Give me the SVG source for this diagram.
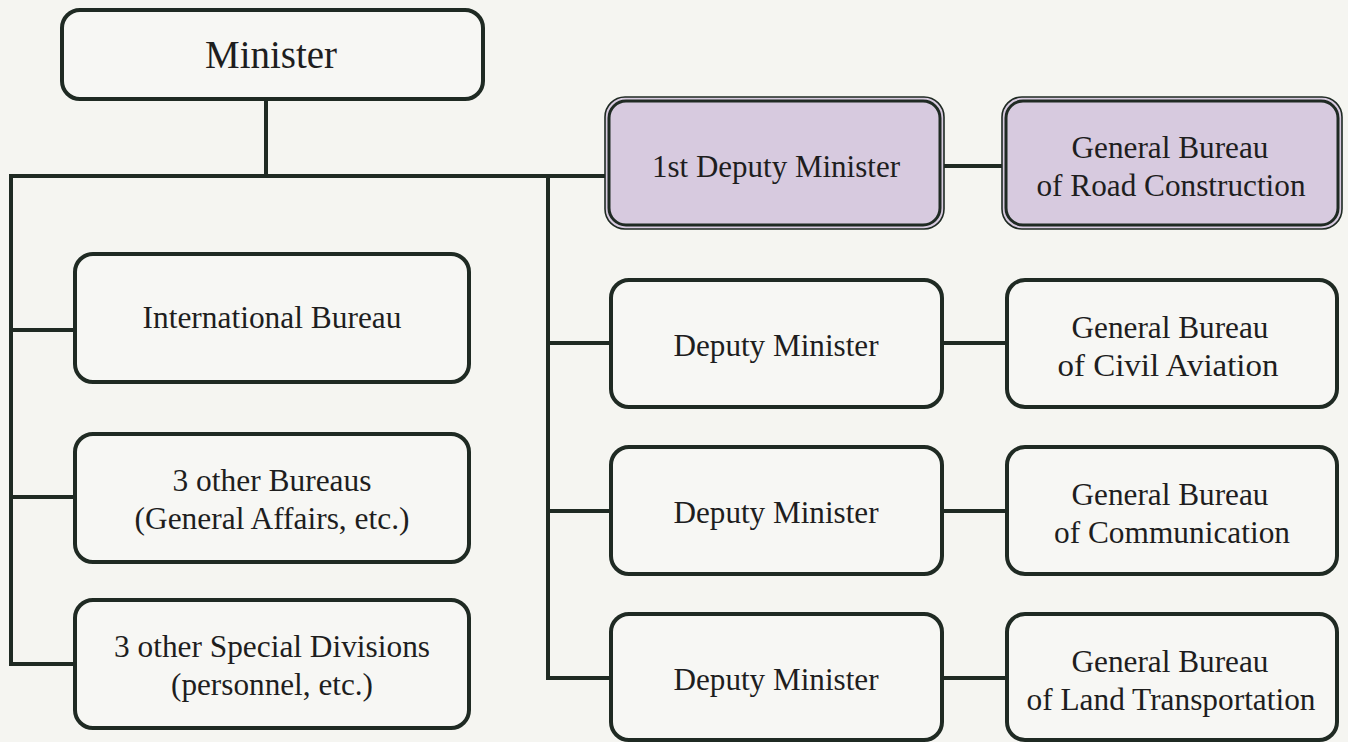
<svg xmlns="http://www.w3.org/2000/svg" width="1348" height="742" viewBox="0 0 1348 742">
<style>
.bg{fill:#f5f5f1}
.box{fill:#f7f7f4;stroke:#1f2a23;stroke-width:4}
.pout{fill:#d7cadf;stroke:#1f2a23;stroke-width:1.6}
.pin{fill:none;stroke:#1f2a23;stroke-width:3}
.ln{fill:none;stroke:#1f2a23;stroke-width:4;stroke-linecap:square}
text{font-family:'Liberation Serif', 'Times New Roman', Times, serif;fill:#1e1e1e;text-anchor:middle;font-size:32px}
.big{font-size:40px}
</style>
<rect class="bg" x="0" y="0" width="1348" height="742"/>
<g id="connectors">
<path class="ln" d="M266,99 V176 M11,176 H606 M11,176 V664 M11,330 H75 M11,497 H75 M11,664 H75"/>
<path class="ln" d="M548,176 V678 M548,343 H611 M548,511 H611 M548,678 H611"/>
<path class="ln" d="M944,166 H1002 M942,343 H1007 M942,511 H1007 M942,678 H1007"/>
</g>
<g font-family="Liberation Serif, serif">
<g id="minister">
<rect class="box" x="62" y="10" width="421" height="89" rx="18"/>
<text class="big" x="271" y="68" textLength="132" lengthAdjust="spacingAndGlyphs">Minister</text>
</g>
<g id="international-bureau">
<rect class="box" x="75" y="254" width="394" height="128" rx="18"/>
<text x="272" y="328" textLength="259" lengthAdjust="spacingAndGlyphs">International Bureau</text>
</g>
<g id="other-bureaus">
<rect class="box" x="75" y="434" width="394" height="128" rx="18"/>
<text x="272" y="491" textLength="199" lengthAdjust="spacingAndGlyphs">3 other Bureaus</text>
<text x="272" y="529" textLength="275" lengthAdjust="spacingAndGlyphs">(General Affairs, etc.)</text>
</g>
<g id="special-divisions">
<rect class="box" x="75" y="600" width="394" height="128" rx="18"/>
<text x="272" y="657" textLength="316" lengthAdjust="spacingAndGlyphs">3 other Special Divisions</text>
<text x="272" y="695" textLength="202" lengthAdjust="spacingAndGlyphs">(personnel, etc.)</text>
</g>
<g id="first-deputy">
<rect class="pout" x="605" y="97" width="339" height="132" rx="20"/>
<rect class="pin" x="609" y="101" width="331" height="124" rx="17"/>
<text x="776" y="177" textLength="248" lengthAdjust="spacingAndGlyphs">1st Deputy Minister</text>
</g>
<g id="road-construction">
<rect class="pout" x="1002" y="97" width="340" height="132" rx="20"/>
<rect class="pin" x="1006" y="101" width="332" height="124" rx="17"/>
<text x="1170" y="158" textLength="197" lengthAdjust="spacingAndGlyphs">General Bureau</text>
<text x="1171" y="196" textLength="269" lengthAdjust="spacingAndGlyphs">of Road Construction</text>
</g>
<g id="deputy-1">
<rect class="box" x="611" y="280" width="331" height="127" rx="18"/>
<text x="776" y="356" textLength="205" lengthAdjust="spacingAndGlyphs">Deputy Minister</text>
</g>
<g id="civil-aviation">
<rect class="box" x="1007" y="280" width="330" height="127" rx="18"/>
<text x="1170" y="338" textLength="197" lengthAdjust="spacingAndGlyphs">General Bureau</text>
<text x="1168" y="376" textLength="221" lengthAdjust="spacingAndGlyphs">of Civil Aviation</text>
</g>
<g id="deputy-2">
<rect class="box" x="611" y="447" width="331" height="127" rx="18"/>
<text x="776" y="523" textLength="205" lengthAdjust="spacingAndGlyphs">Deputy Minister</text>
</g>
<g id="communication">
<rect class="box" x="1007" y="447" width="330" height="127" rx="18"/>
<text x="1170" y="505" textLength="197" lengthAdjust="spacingAndGlyphs">General Bureau</text>
<text x="1172" y="543" textLength="236" lengthAdjust="spacingAndGlyphs">of Communication</text>
</g>
<g id="deputy-3">
<rect class="box" x="611" y="614" width="331" height="126" rx="18"/>
<text x="776" y="690" textLength="205" lengthAdjust="spacingAndGlyphs">Deputy Minister</text>
</g>
<g id="land-transportation">
<rect class="box" x="1007" y="614" width="330" height="126" rx="18"/>
<text x="1170" y="672" textLength="197" lengthAdjust="spacingAndGlyphs">General Bureau</text>
<text x="1171" y="710" textLength="289" lengthAdjust="spacingAndGlyphs">of Land Transportation</text>
</g>
</g>
</svg>
